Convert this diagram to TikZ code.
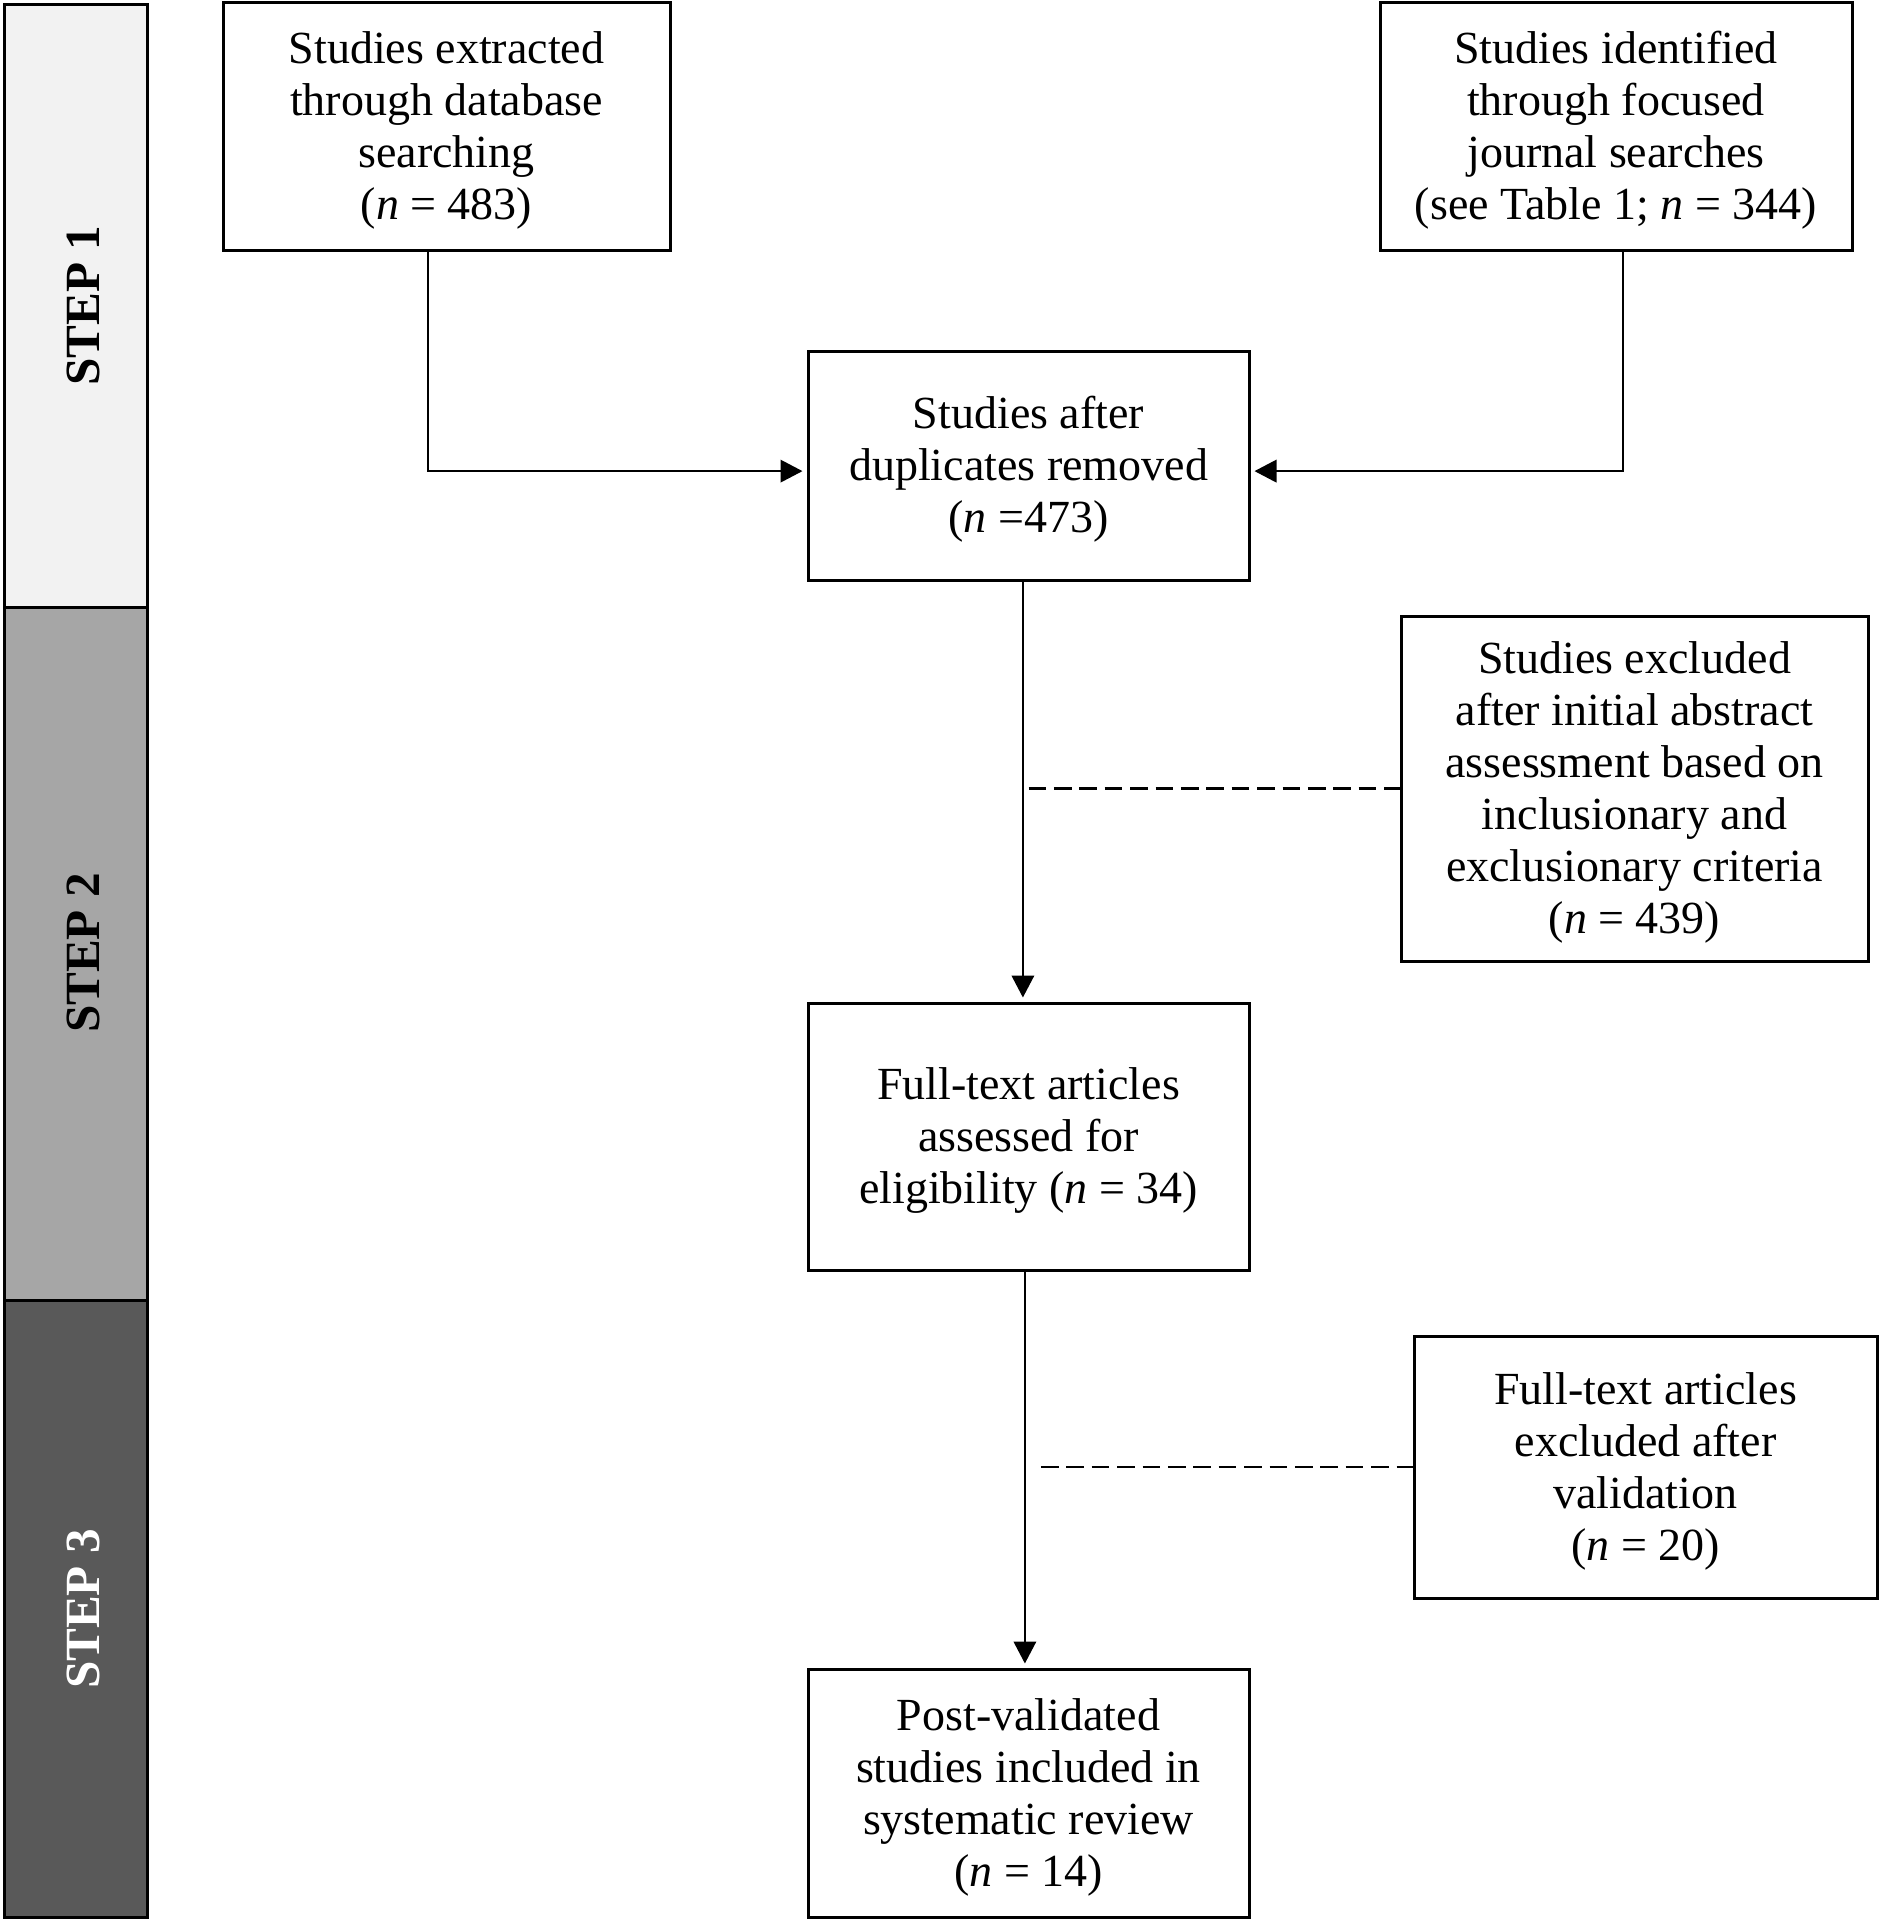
\documentclass[tikz,border=0pt]{standalone}
\usepackage{fontspec}
\setmainfont{Liberation Serif}
\usetikzlibrary{arrows.meta}
\definecolor{stepone}{HTML}{F2F2F2}
\definecolor{steptwo}{HTML}{A6A6A6}
\definecolor{stepthree}{HTML}{595959}
\newcommand{\tgap}{\rule{0pt}{10pt}}

\begin{document}
\begin{tikzpicture}[x=0.25pt,y=-0.25pt,
  box/.style={draw,line width=0.75pt,align=center,inner sep=0pt,
    font=\fontsize{11.5}{13}\selectfont},
  arr/.style={line width=0.6pt,-{Triangle[length=5.5pt,width=5.6pt]},shorten >=1pt},
  exclline/.style={line width=0.6pt,dash pattern=on 4.4pt off 1.95pt},
  bar/.style={draw,line width=0.75pt},
  steplabel/.style={rotate=90,font=\fontsize{12.3}{14}\selectfont\bfseries}]
\useasboundingbox (0,0) rectangle (1878,1920);
% step bars
\draw[bar,fill=stepone] (4,4) rectangle (147,607);
\draw[bar,fill=steptwo] (4,607) rectangle (147,1300);
\draw[bar,fill=stepthree] (4,1300) rectangle (147,1917);
\node[steplabel] (s1) at (83,306) {STEP 1};
\node[steplabel] (s2) at (83,953) {STEP 2};
\node[steplabel,text=white] (s3) at (83,1609) {STEP 3};
% boxes
\node[box,minimum width=111.75pt,minimum height=62pt] (extr) at (446.5,126)
  {\tgap Studies extracted\\through database\\searching\\(\textit{n} = 483)};
\node[box,minimum width=118pt,minimum height=62pt] (ident) at (1616,126)
  {\tgap Studies identified\\through focused\\journal searches\\(see Table 1; \textit{n} = 344)};
\node[box,minimum width=110.25pt,minimum height=57.25pt] (dupl) at (1028.5,465.5)
  {\tgap Studies after\\duplicates removed\\(\textit{n} =473)};
\node[box,minimum width=116.75pt,minimum height=86.25pt] (abstr) at (1634.5,788.5)
  {\tgap Studies excluded\\after initial abstract\\assessment based on\\inclusionary and\\exclusionary criteria\\(\textit{n} = 439)};
\node[box,minimum width=110.25pt,minimum height=66.75pt] (full) at (1028.5,1136.5)
  {\tgap Full-text articles\\assessed for\\eligibility (\textit{n} = 34)};
\node[box,minimum width=115.75pt,minimum height=65.5pt] (valid) at (1645.5,1467)
  {\tgap Full-text articles\\excluded after\\validation\\(\textit{n} = 20)};
\node[box,minimum width=110.25pt,minimum height=62pt] (incl) at (1028.5,1793)
  {\tgap Post-validated\\studies included in\\systematic review\\(\textit{n} = 14)};
% connectors
\draw[arr] ([xshift=-4.6pt]extr.south) |- ([yshift=-1.4pt]dupl.west);
\draw[arr] ([xshift=1.75pt]ident.south) |- ([yshift=-1.4pt]dupl.east);
\draw[arr] ([xshift=-1.4pt]dupl.south) -- ([xshift=-1.4pt]full.north);
\draw[arr] ([xshift=-0.9pt]full.south) -- ([xshift=-0.9pt]incl.north);
\draw[exclline] (abstr.west -| dupl.south) -- (abstr.west);
\draw[exclline] ([xshift=3.1pt]valid.west -| full.south) -- (valid.west);
\end{tikzpicture}
\end{document}
